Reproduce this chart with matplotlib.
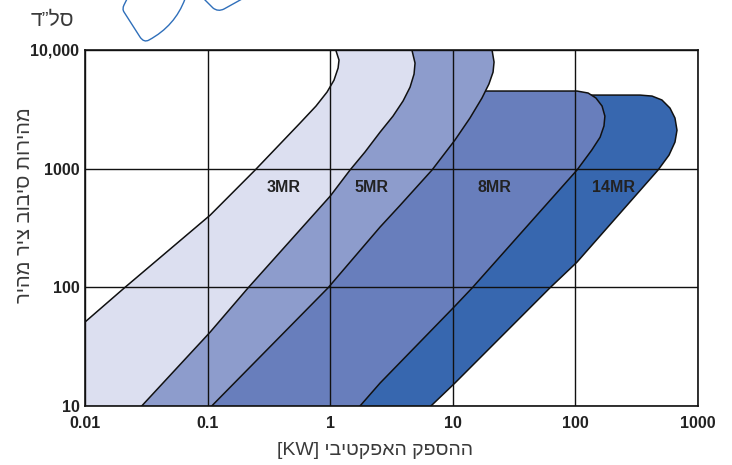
import numpy as np
import matplotlib
matplotlib.use("Agg")
import matplotlib.pyplot as plt
from matplotlib.path import Path
from matplotlib.patches import PathPatch

plt.rcParams['font.family'] = ['Liberation Sans', 'DejaVu Sans']

# boundary curves: power [kW] vs spindle speed [rpm]
left_kw  = [0.01, 0.0212, 0.105, 0.244, 0.567, 0.766, 0.942, 1.074, 1.16, 1.18, 1.11]
left_rpm = [51, 100, 406, 973, 2420, 3370, 4420, 5570, 7050, 8220, 10000]

r3_kw  = [0.029, 0.105, 0.214, 1.0, 1.45, 1.92, 2.55, 3.25, 3.93, 4.48, 4.83, 4.92, 4.64]
r3_rpm = [10, 42, 99, 587, 973, 1380, 2030, 2770, 3720, 4860, 6270, 7760, 10000]

r5_kw  = [0.108, 0.96, 2.55, 3.71, 6.76, 10.4, 13.8, 17.3, 19.7, 21.3, 21.7, 20.9]
r5_rpm = [10, 99, 322, 490, 973, 1740, 2670, 3940, 5160, 6510, 7910, 10000]

r8_kw  = [1.75, 2.55, 10.2, 14.4, 103, 136, 159, 171, 174, 165, 147, 127, 103, 15]
r8_rpm = [10, 15.6, 68, 99, 973, 1435, 1840, 2290, 2770, 3370, 3940, 4340, 4510, 4510]

r14_kw  = [6.63, 10.4, 62, 103, 472, 580, 649, 674, 649, 591, 508, 422, 336, 80]
r14_rpm = [10, 15.6, 99, 163, 973, 1300, 1675, 2110, 2670, 3240, 3790, 4090, 4170, 4170]

band_names = ['14MR', '8MR', '5MR', '3MR']
band_right = [(r14_kw, r14_rpm), (r8_kw, r8_rpm), (r5_kw, r5_rpm), (r3_kw, r3_rpm)]
band_colors = ['#3767af', '#687ebc', '#8d9ccc', '#dcdff0']
label_x = [203, 22, 2.19, 0.42]
label_y = 700

xticks = [0.01, 0.1, 1, 10, 100, 1000]
xtick_labels = ['0.01', '0.1', '1', '10', '100', '1000']
yticks = [10, 100, 1000, 10000]
ytick_labels = ['10', '100', '1000', '10,000']

fig = plt.figure(figsize=(7.32, 4.65), dpi=100)
ax = fig.add_axes([85/732, 59/465, 613/732, 356/465])
ax.set_xscale('log')
ax.set_yscale('log')

z = 2
for name, (rk, rr), col in zip(band_names, band_right, band_colors):
  top = max(rr)
  # left side: common left line, cut at the top of the band (hidden under upper bands)
  lpts = [(k, r) for k, r in zip(left_kw, left_rpm) if r < top or top >= 10000]
  poly = [(0.01, 10)] + lpts + list(zip(rk, rr))[::-1]
  ax.fill([p[0] for p in poly], [p[1] for p in poly], color=col, lw=0, zorder=z)
  ax.plot(rk, rr, color='#111111', lw=1.1, zorder=z + 0.5, solid_joinstyle='round')
  z += 1
ax.plot(left_kw, left_rpm, color='#111111', lw=1.1, zorder=z, solid_joinstyle='round')

for name, lx in zip(band_names, label_x):
  ax.text(lx, label_y, name, ha='center', va='center', fontsize=11.5,
          fontweight='bold', color='#222222', zorder=8)

ax.set_xlim(0.01, 1000)
ax.set_ylim(10, 10000)
ax.set_xticks(xticks)
ax.set_xticklabels(xtick_labels)
ax.set_yticks(yticks)
ax.set_yticklabels(ytick_labels)
ax.minorticks_off()
ax.tick_params(length=0, labelsize=11.5, colors='#222222')
ax.tick_params(axis='x', pad=7)
ax.tick_params(axis='y', pad=4)
for lab in ax.get_xticklabels() + ax.get_yticklabels():
  lab.set_fontweight('bold')
ax.grid(True, color='#111111', lw=1.0)
ax.xaxis.set_zorder(7)
ax.yaxis.set_zorder(7)
for sp in ax.spines.values():
  sp.set_color('#111111')
  sp.set_linewidth(1.2)
  sp.set_zorder(7)

# hebrew labels, written in visual order (matplotlib has no bidi)
ax.set_xlabel('[KW] ' + 'ההספק האפקטיבי'[::-1], fontsize=14, color='#3a3a3a')
ax.xaxis.set_label_coords(0.473, -0.1)
ax.set_ylabel('מהירות סיבוב ציר מהיר'[::-1], fontsize=14.5, color='#3a3a3a')
ax.yaxis.set_label_coords(-0.083, 0.565)
fig.text(52/732, 1 - 20/465, 'סל\u201dד'[::-1], fontsize=15, color='#3a3a3a',
         ha='center', va='center')

# decorative outlines cut by the top edge
def px(x, y):
  return (x/732, 1 - y/465)

shape1 = Path([px(127, -1), px(124, 5), px(122, 9), px(124, 12), px(140, 37),
               px(144, 43), px(149, 40), px(175, 26), px(185, -1)],
              [Path.MOVETO, Path.LINETO, Path.CURVE3, Path.CURVE3, Path.LINETO,
               Path.CURVE3, Path.CURVE3, Path.CURVE3, Path.CURVE3])
shape2 = Path([px(204, -1), px(213, 8), px(218, 12), px(224, 9), px(242, -1)],
              [Path.MOVETO, Path.LINETO, Path.CURVE3, Path.CURVE3, Path.LINETO])
for sh in (shape1, shape2):
  fig.patches.append(PathPatch(sh, transform=fig.transFigure, fill=False,
                               ec='#2f6fba', lw=1.0))

fig.savefig('out.png', dpi=100)
